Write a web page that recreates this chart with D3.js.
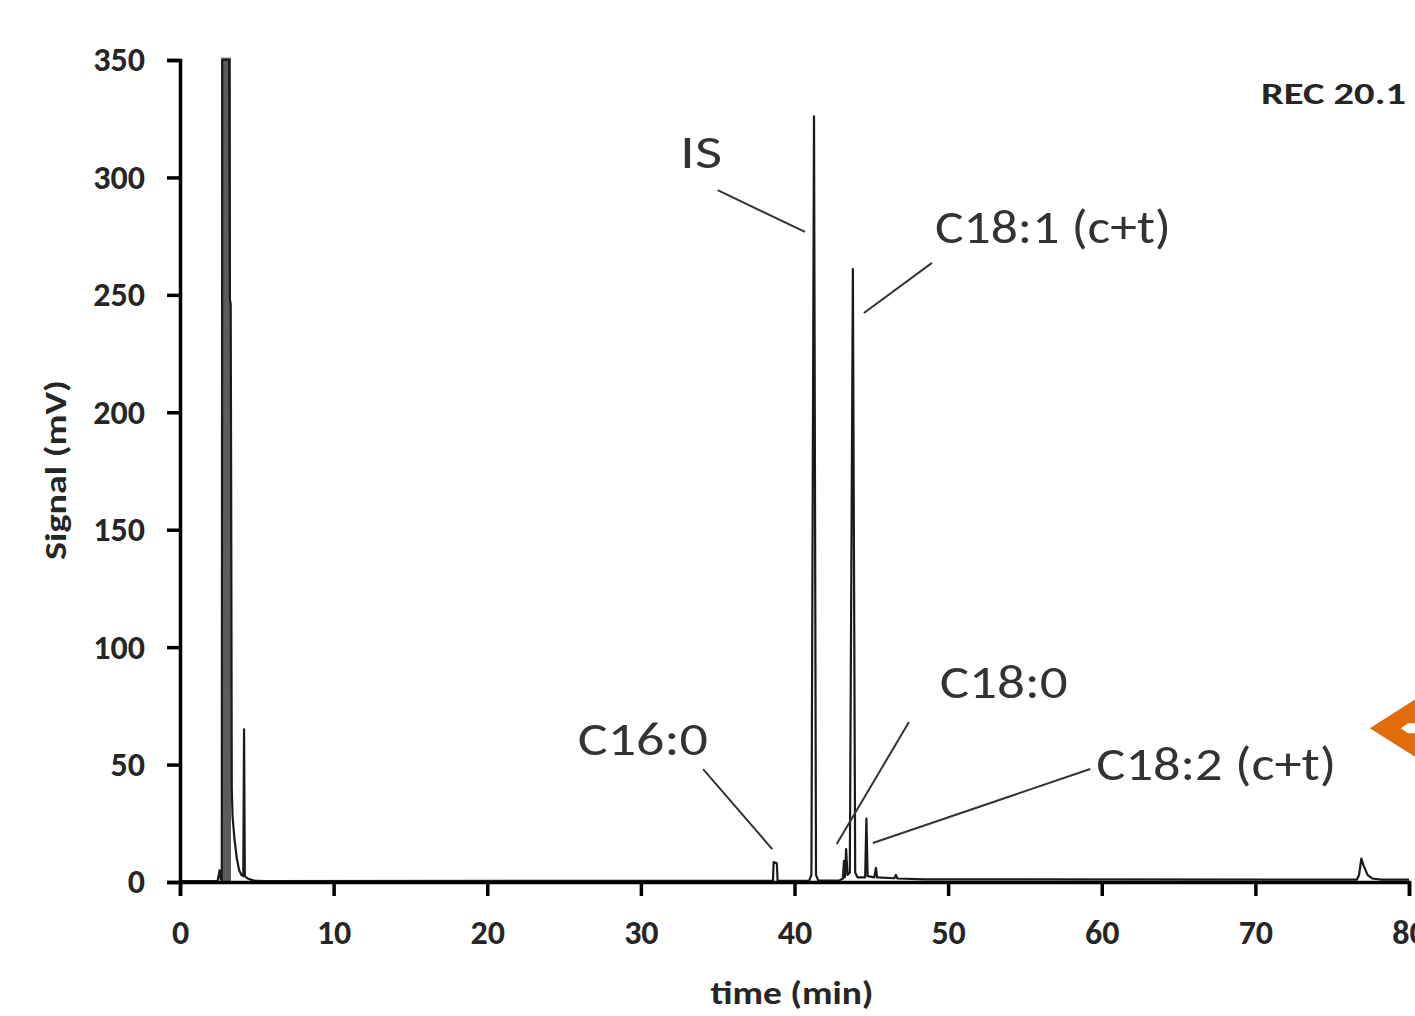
<!DOCTYPE html>
<html>
<head>
<meta charset="utf-8">
<script src="https://cdn.jsdelivr.net/npm/d3@7"></script>
<style>
  html, body { margin: 0; padding: 0; background: #fff; }
  svg { display: block; }
</style>
</head>
<body>
<script>
const width = 1415;
const height = 1016;

// chromatogram trace (time in min, signal in mV)
const times = [0, 2.45, 2.58, 2.66, 2.72, 2.75, 3.2, 3.25, 3.3, 3.33, 3.37, 3.42, 3.55, 3.7, 3.85, 4.0, 4.12, 4.17, 4.22, 4.4, 4.8, 5.5,
  38.6, 38.64, 38.85, 38.9, 40.95, 41.1, 41.27, 41.4, 41.55,
  42.9, 43.15, 43.22, 43.28, 43.36, 43.45, 43.6, 43.8, 43.95, 44.1, 44.6, 44.68, 44.76, 45.2, 45.3, 45.38,
  46.5, 46.6, 46.7, 48.5, 76.6, 76.75, 76.9, 77.05, 77.3, 77.6, 78.2, 80];
const signal = [0.4, 0.4, 5, 1, 1, 350, 350, 248, 246, 170, 40, 28, 18, 10, 5, 3, 2.5, 65, 2.5, 1.5, 0.6, 0.4,
  0.5, 8.5, 8, 0.5, 0.5, 3, 326, 3, 0.6,
  0.6, 1.5, 9, 2, 14, 3, 4, 261, 4, 2, 2, 27, 2.5, 2, 6, 2,
  1.6, 3, 1.5, 1.1, 1, 3, 10, 7, 3, 1.5, 1, 1];

// detector saturated (off scale) between these times
const saturated = [[2.68, 3.32]];

const xTicks = [0, 10, 20, 30, 40, 50, 60, 70, 80];
const yTicks = [0, 50, 100, 150, 200, 250, 300, 350];

const peakLabels = ["IS", "C18:1 (c+t)", "C18:0", "C16:0", "C18:2 (c+t)"];
// label anchor and leader line, in data units
const labelAt = [[32.55, 304], [49.15, 272], [49.45, 78.5], [25.9, 54], [59.65, 43.5]];
const labelWidth = [42, 236, 128, 130, 240];
const leaders = [
  [[35.0, 294.6], [40.68, 276.8]],
  [[48.95, 263.6], [44.52, 242.3]],
  [[47.45, 68.1], [42.75, 16.2]],
  [[34.05, 48.1], [38.55, 14.0]],
  [[59.25, 48.1], [45.1, 16.6]]
];

const sampleName = "REC 20.1";

const margin = {top: 60, right: 6, bottom: 134, left: 180};

const x = d3.scaleLinear().domain([0, 80]).range([margin.left, width - margin.right]);
const y = d3.scaleLinear().domain([0, 350]).range([height - margin.bottom, margin.top]);

const svg = d3.select("body").append("svg")
  .attr("width", width)
  .attr("height", height)
  .attr("viewBox", [0, 0, width, height]);

const font = "Carlito, Calibri, Lato, 'Open Sans', sans-serif";

svg.append("clipPath").attr("id", "plot")
  .append("rect")
  .attr("x", margin.left).attr("y", margin.top - 3)
  .attr("width", width - margin.left - margin.right)
  .attr("height", height - margin.top - margin.bottom + 3);

const plot = svg.append("g").attr("clip-path", "url(#plot)");

plot.selectAll("rect.sat")
  .data(saturated)
  .join("rect")
  .attr("class", "sat")
  .attr("x", d => x(d[0]))
  .attr("width", d => x(d[1]) - x(d[0]))
  .attr("y", y(351))
  .attr("height", y(0) - y(351))
  .attr("fill", "#5c5c5c");

const points = times.map((t, i) => [t, signal[i]]);

plot.append("path")
  .datum(points)
  .attr("fill", "none")
  .attr("stroke", "#1a1a1a")
  .attr("stroke-width", 2.2)
  .attr("stroke-linejoin", "round")
  .attr("d", d3.line().x(d => x(d[0])).y(d => y(d[1])));

// axes
const xAxis = svg.append("g")
  .attr("transform", `translate(0,${y(0)})`)
  .call(d3.axisBottom(x).tickValues(xTicks).tickSize(14).tickSizeOuter(14).tickPadding(24));

const yAxis = svg.append("g")
  .attr("transform", `translate(${x(0)},0)`)
  .call(d3.axisLeft(y).tickValues(yTicks).tickSize(13).tickSizeOuter(13).tickPadding(22));

[xAxis, yAxis].forEach(g => {
  g.select(".domain").attr("stroke", "#000").attr("stroke-width", 3.5);
  g.selectAll(".tick line").attr("stroke", "#000").attr("stroke-width", 3.5);
  g.selectAll(".tick text")
    .attr("fill", "#262626")
    .style("font-family", font)
    .style("font-weight", "bold")
    .style("font-size", "34px");
});
xAxis.selectAll(".tick text").attr("dy", "0.71em");

svg.append("text")
  .attr("x", 792)
  .attr("y", 1004)
  .attr("text-anchor", "middle")
  .attr("fill", "#262626")
  .style("font-family", font)
  .style("font-weight", "bold")
  .style("font-size", "32px")
  .attr("textLength", 163)
  .attr("lengthAdjust", "spacingAndGlyphs")
  .text("time (min)");

svg.append("text")
  .attr("transform", `translate(66,470)rotate(-90)`)
  .attr("text-anchor", "middle")
  .attr("fill", "#262626")
  .style("font-family", font)
  .style("font-weight", "bold")
  .style("font-size", "31px")
  .attr("textLength", 180)
  .attr("lengthAdjust", "spacingAndGlyphs")
  .text("Signal (mV)");

svg.append("text")
  .attr("x", 1406)
  .attr("y", 104)
  .attr("text-anchor", "end")
  .attr("fill", "#262626")
  .style("font-family", font)
  .style("font-weight", "bold")
  .style("font-size", "31px")
  .attr("textLength", 145)
  .attr("lengthAdjust", "spacingAndGlyphs")
  .text(sampleName);

// peak annotations
svg.append("g")
  .selectAll("line")
  .data(leaders)
  .join("line")
  .attr("x1", d => x(d[0][0])).attr("y1", d => y(d[0][1]))
  .attr("x2", d => x(d[1][0])).attr("y2", d => y(d[1][1]))
  .attr("stroke", "#333")
  .attr("stroke-width", 2);

svg.append("g")
  .selectAll("text")
  .data(peakLabels)
  .join("text")
  .attr("x", (d, i) => x(labelAt[i][0]))
  .attr("y", (d, i) => y(labelAt[i][1]))
  .attr("fill", "#333")
  .style("font-family", font)
  .style("font-size", "48px")
  .attr("textLength", (d, i) => labelWidth[i])
  .attr("lengthAdjust", "spacingAndGlyphs")
  .text(d => d);

// orange arrow at the right edge, pointing at the small peaks
const tip = [x(77.45), y(65.5)];
svg.append("path")
  .attr("d", `M${tip[0]},${tip[1]} L${tip[0] + 60},${tip[1] - 38} L${tip[0] + 60},${tip[1] + 38} Z`)
  .attr("fill", "#e36c0a");
svg.append("path")
  .attr("d", `M${tip[0] + 31},${tip[1]} L${tip[0] + 38},${tip[1] - 5} L${tip[0] + 50},${tip[1] - 5} L${tip[0] + 50},${tip[1] + 5} L${tip[0] + 38},${tip[1] + 5} Z`)
  .attr("fill", "#fff");
</script>
</body>
</html>
